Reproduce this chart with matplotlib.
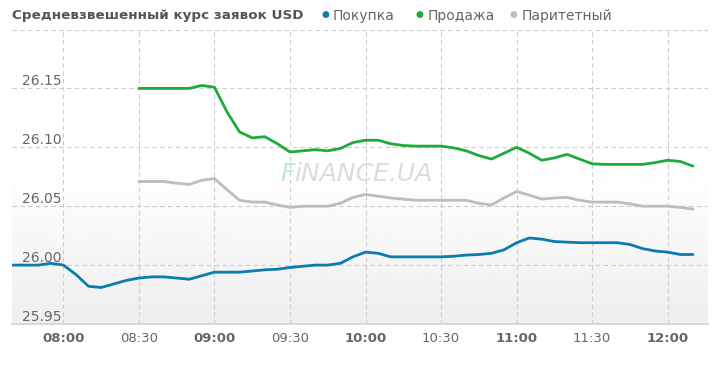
import matplotlib.pyplot as plt
import numpy as np

# data (5-minute samples)
buy_start = "07:40"
buy = [26.000, 26.000, 26.000, 26.0015,
       26.000, 25.992, 25.982, 25.981, 25.984, 25.987, 25.989, 25.990, 25.990, 25.989, 25.988, 25.991,
       25.994, 25.994, 25.994, 25.995, 25.996, 25.9965, 25.998, 25.999, 26.000, 26.000, 26.0015, 26.007,
       26.011, 26.010, 26.007, 26.007, 26.007, 26.007, 26.007, 26.0075, 26.0085, 26.009, 26.010, 26.013,
       26.019, 26.023, 26.022, 26.020, 26.0195, 26.019, 26.019, 26.019, 26.019, 26.0175, 26.014, 26.012,
       26.011, 26.009, 26.009]

sell_start = "08:30"
sell = [26.150, 26.150, 26.150, 26.150, 26.150, 26.1525,
        26.151, 26.130, 26.113, 26.108, 26.109, 26.103, 26.096, 26.097, 26.098, 26.097, 26.099, 26.104,
        26.106, 26.106, 26.103, 26.1015, 26.101, 26.101, 26.101, 26.0995, 26.097, 26.093, 26.090, 26.095,
        26.100, 26.095, 26.089, 26.091, 26.094, 26.090, 26.086, 26.0855, 26.0855, 26.0855, 26.0855, 26.087,
        26.089, 26.088, 26.084]

parity_start = "08:30"
parity = [26.071, 26.071, 26.071, 26.0695, 26.0685, 26.072,
          26.0735, 26.064, 26.055, 26.0535, 26.0535, 26.051, 26.049, 26.050, 26.050, 26.050, 26.0525, 26.0575,
          26.060, 26.0585, 26.057, 26.056, 26.055, 26.055, 26.055, 26.055, 26.055, 26.0525, 26.051, 26.057,
          26.0625, 26.0595, 26.056, 26.057, 26.0575, 26.055, 26.0535, 26.0535, 26.0535, 26.052, 26.050, 26.050,
          26.050, 26.049, 26.0475]

xtick_labels = ["08:00", "08:30", "09:00", "09:30", "10:00", "10:30", "11:00", "11:30", "12:00"]
yticks = [25.95, 26.00, 26.05, 26.10, 26.15, 26.20]

title = "Средневзвешенный курс заявок USD"
names = ["Покупка", "Продажа", "Паритетный"]
colors = ["#0b7bb0", "#1faa3c", "#bdbdbd"]


def hours(s):
    h, m = s.split(":")
    return int(h) + float(m) / 60.0


def timeline(start, n):
    return hours(start) + np.arange(n) * 5 / 60.0


fig = plt.figure(figsize=(7.2, 3.67), dpi=100)
ax = fig.add_axes([12 / 720, 43 / 367, 696 / 720, 294.5 / 367])

# soft gradient background in the lower half
grad = np.concatenate([np.linspace(0.935, 1.0, 120), np.ones(100)])[:, None]
ax.imshow(grad, cmap="gray", vmin=0, vmax=1, aspect="auto", origin="lower",
          extent=[0, 1, 0, 1], transform=ax.transAxes, zorder=0)

for vals, start, c in zip([buy, sell, parity], [buy_start, sell_start, parity_start], colors):
    ax.plot(timeline(start, len(vals)), vals, color=c, lw=2.0,
            solid_joinstyle="round", solid_capstyle="round", zorder=3)

ax.set_xlim(hours("07:39.6"), hours("12:16"))
ax.set_ylim(25.95, 26.20)

ax.set_xticks([hours(t) for t in xtick_labels])
ax.set_xticklabels(xtick_labels)
ax.tick_params(axis="x", length=0, pad=6, labelsize=9.5, labelcolor="#666666")
for lbl in ax.get_xticklabels():
    if lbl.get_text().endswith(":00"):
        lbl.set_fontweight("bold")

ax.set_yticks(yticks)
ax.set_yticklabels([f"{v:.2f}" if v < 26.2 else "" for v in yticks])
ax.tick_params(axis="y", length=0, pad=-7.5, labelsize=10, labelcolor="#666666")
for lbl in ax.get_yticklabels():
    lbl.set_horizontalalignment("left")
    lbl.set_verticalalignment("bottom")

ax.grid(True, color="#cccccc", lw=0.8, ls=(0, (4, 3)))
ax.set_axisbelow(True)
for side in ["top", "left", "right"]:
    ax.spines[side].set_visible(False)
ax.spines["bottom"].set_color("#d8d8d8")
ax.spines["bottom"].set_linewidth(1.5)

# watermark
ax.text(0.385, 0.51, "F", transform=ax.transAxes, fontsize=18, style="italic",
        color="#bfe6dc", ha="left", va="center", zorder=1)
ax.text(0.405, 0.51, "iNANCE.UA", transform=ax.transAxes, fontsize=18, style="italic",
        color="#dcdcdc", ha="left", va="center", zorder=1)

# title + legend
fig.text(12 / 720, 1 - 16 / 367, title, fontsize=9.7, fontweight="bold",
         color="#555555", ha="left", va="center")
legend_x = [321, 416, 510]
for x, name, c in zip(legend_x, names, colors):
    fig.text(x / 720, 1 - 15 / 367, "●", fontsize=6.5, color=c, ha="left", va="center")
    fig.text((x + 12) / 720, 1 - 16 / 367, name, fontsize=10, color="#666666",
             ha="left", va="center")

plt.savefig("out.png", dpi=100)
